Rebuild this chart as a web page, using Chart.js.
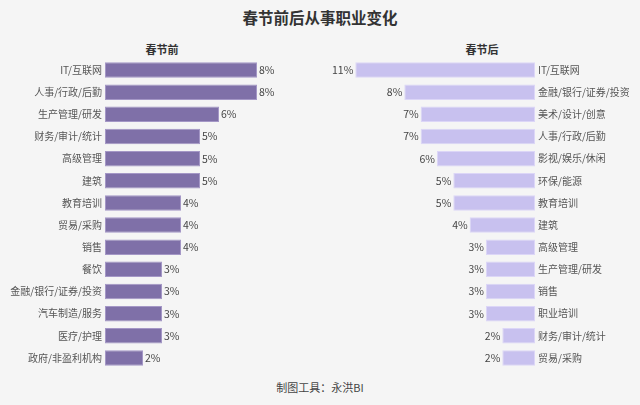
<!DOCTYPE html>
<html>
<head>
<meta charset="utf-8">
<script src="https://cdn.jsdelivr.net/npm/chart.js@4"></script>
<style>
  html, body { margin: 0; padding: 0; background: #f5f5f5; }
  body { width: 640px; height: 405px; position: relative; overflow: hidden;
         font-family: "Noto Sans CJK SC", sans-serif; color: #333; }
  .txt { position: absolute; text-align: center; white-space: nowrap; }
  #title { left: 0; width: 640px; top: 6px; font-size: 15.5px; font-weight: bold; color: #333; }
  #subL { left: 105px; width: 114px; top: 41px; font-size: 11px; font-weight: bold; }
  #subR { left: 425px; width: 114px; top: 41px; font-size: 11px; font-weight: bold; }
  #foot { left: 0; width: 640px; top: 379px; font-size: 11px; color: #444; }
  .box { position: absolute; top: 50px; width: 320px; height: 328px; }
  #boxL { left: 0; }
  #boxR { left: 320px; }
</style>
</head>
<body>
<div id="title" class="txt">春节前后从事职业变化</div>
<div id="subL" class="txt">春节前</div>
<div id="subR" class="txt">春节后</div>
<div class="box" id="boxL"><canvas id="chartL"></canvas></div>
<div class="box" id="boxR"><canvas id="chartR"></canvas></div>
<div id="foot" class="txt">制图工具：永洪BI</div>
<script>
const beforeLabels = ["IT/互联网", "人事/行政/后勤", "生产管理/研发", "财务/审计/统计", "高级管理", "建筑",
    "教育培训", "贸易/采购", "销售", "餐饮", "金融/银行/证券/投资", "汽车制造/服务", "医疗/护理", "政府/非盈利机构"];
const beforeValues = [8, 8, 6, 5, 5, 5, 4, 4, 4, 3, 3, 3, 3, 2];

const afterLabels = ["IT/互联网", "金融/银行/证券/投资", "美术/设计/创意", "人事/行政/后勤", "影视/娱乐/休闲",
    "环保/能源", "教育培训", "建筑", "高级管理", "生产管理/研发", "销售", "职业培训", "财务/审计/统计", "贸易/采购"];
const afterValues = [11, 8, 7, 7, 6, 5, 5, 4, 3, 3, 3, 3, 2, 2];

const font = "'Noto Sans CJK SC', sans-serif";

// draws the "8%" labels at the end of each bar
const valueLabels = {
    id: "valueLabels",
    afterDatasetsDraw(chart, args, opts) {
        const ctx = chart.ctx;
        const meta = chart.getDatasetMeta(0);
        ctx.save();
        ctx.font = "10.5px " + font;
        ctx.fillStyle = "#444";
        ctx.textBaseline = "middle";
        ctx.textAlign = opts.side === "left" ? "right" : "left";
        meta.data.forEach(function (bar, i) {
            const v = chart.data.datasets[0].data[i];
            const x = opts.side === "left" ? bar.x - 2 : bar.x + 2;
            ctx.fillText(v + "%", x, bar.y);
        });
        ctx.restore();
    }
};

function makeChart(id, labels, values, color, border, reversed) {
    const el = document.getElementById(id).getContext("2d");
    return new Chart(el, {
        type: "bar",
        data: {
            labels: labels,
            datasets: [{
                data: values,
                backgroundColor: color,
                borderColor: border,
                borderWidth: 1,
                borderSkipped: false,
                categoryPercentage: 1,
                barPercentage: 0.7,
            }],
        },
        options: {
            indexAxis: "y",
            responsive: true,
            maintainAspectRatio: false,
            animation: false,
            layout: { padding: reversed ? { left: 19, right: 0, top: 0, bottom: 0 } : { left: 0, right: 25, top: 0, bottom: 0 } },
            plugins: {
                legend: { display: false },
                tooltip: { enabled: false },
                valueLabels: { side: reversed ? "left" : "right" },
            },
            scales: {
                x: {
                    display: false,
                    min: 0,
                    max: reversed ? 12 : 10,
                    reverse: reversed,
                },
                y: {
                    position: reversed ? "right" : "left",
                    grid: { display: false, drawTicks: false },
                    border: { display: false },
                    ticks: {
                        color: "#555",
                        font: { family: font, size: 10 },
                        padding: 3,
                        autoSkip: false,
                    },
                    afterFit(scale) { scale.width = 105; },
                },
            },
        },
        plugins: [valueLabels],
    });
}

document.addEventListener("DOMContentLoaded", function () {
    makeChart("chartL", beforeLabels, beforeValues, "#7f70a8", "#a497c6", false);
    makeChart("chartR", afterLabels, afterValues, "#c8c1ef", "#dcd6f7", true);
});
</script>
</body>
</html>
